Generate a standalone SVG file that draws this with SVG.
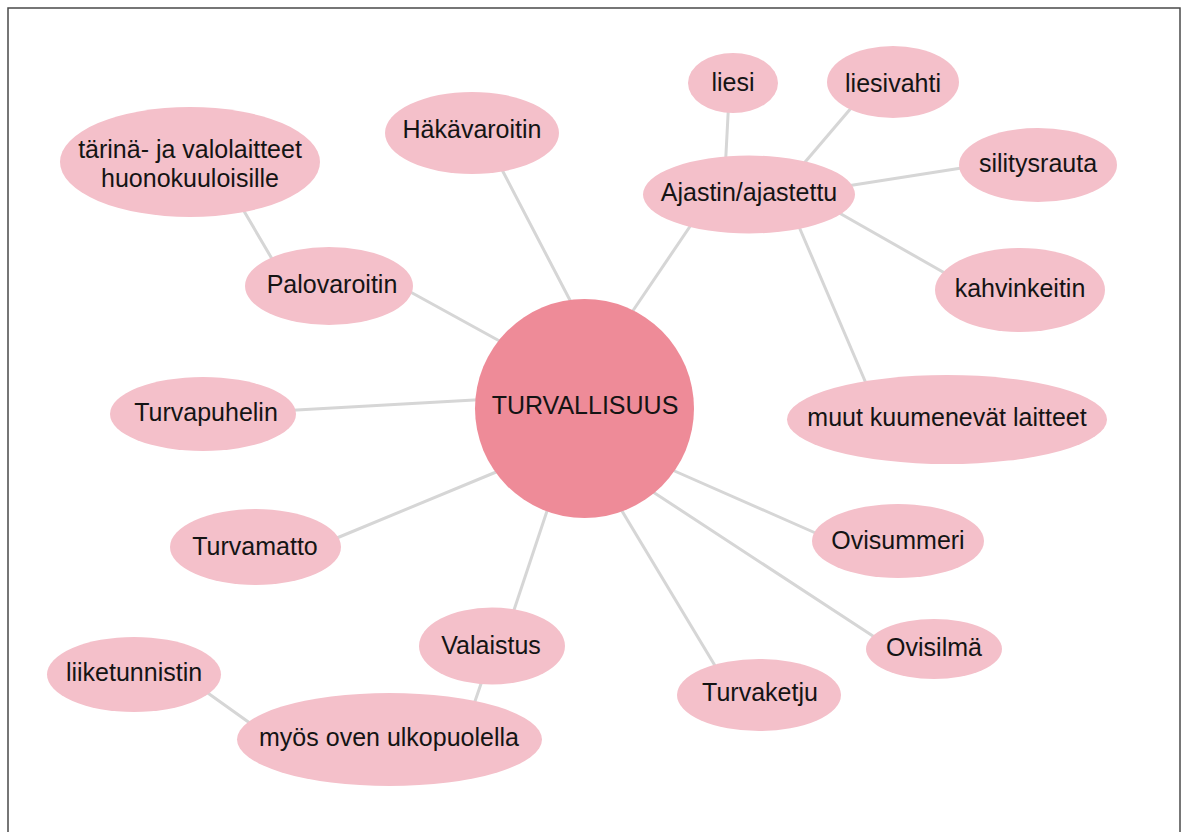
<svg xmlns="http://www.w3.org/2000/svg" width="1186" height="832" viewBox="0 0 1186 832">
  <style>
    .frame { fill: #ffffff; stroke: #4a4a4a; stroke-width: 1.5; }
    .link { stroke: #d6d6d6; stroke-width: 3; stroke-linecap: round; fill: none; }
    .leaf { fill: #f4c0ca; }
    .hub { fill: #ee8b98; }
    .label { font-family: "Liberation Sans", Arial, sans-serif; font-size: 25px; fill: #141414; text-anchor: middle; }
  </style>

  <!-- page frame -->
  <rect class="frame" x="8" y="8" width="1172" height="840"/>

  <!-- connectors -->
  <g id="connectors">
    <line class="link" x1="241" y1="206" x2="275" y2="264"/>
    <line class="link" x1="405" y1="289" x2="505" y2="344"/>
    <line class="link" x1="499" y1="164" x2="573" y2="306"/>
    <line class="link" x1="693" y1="222" x2="628" y2="318"/>
    <line class="link" x1="728.5" y1="106" x2="725.5" y2="163"/>
    <line class="link" x1="852" y1="107" x2="800" y2="168"/>
    <line class="link" x1="968" y1="167" x2="847" y2="186"/>
    <line class="link" x1="834" y1="210" x2="950" y2="276"/>
    <line class="link" x1="797" y1="222" x2="868" y2="388"/>
    <line class="link" x1="288" y1="410.5" x2="483" y2="399.5"/>
    <line class="link" x1="332" y1="540" x2="501" y2="470"/>
    <line class="link" x1="549" y1="505" x2="512" y2="616"/>
    <line class="link" x1="483" y1="678" x2="473" y2="707"/>
    <line class="link" x1="205" y1="691" x2="254" y2="726"/>
    <line class="link" x1="619" y1="506" x2="717" y2="669"/>
    <line class="link" x1="650" y1="490" x2="879" y2="640"/>
    <line class="link" x1="670" y1="469" x2="820" y2="535"/>
  </g>

  <!-- central topic -->
  <g id="turvallisuus">
    <circle class="hub" cx="584.5" cy="408.5" r="109.5"/>
    <text class="label" x="585" y="414">TURVALLISUUS</text>
  </g>

  <g id="tarina">
    <ellipse class="leaf" cx="190" cy="162" rx="130" ry="55"/>
    <text class="label" x="190" y="158">tärinä- ja valolaitteet</text>
    <text class="label" x="190" y="187">huonokuuloisille</text>
  </g>

  <g id="palovaroitin">
    <ellipse class="leaf" cx="329" cy="286" rx="84" ry="39"/>
    <text class="label" x="332" y="293">Palovaroitin</text>
  </g>

  <g id="hakavaroitin">
    <ellipse class="leaf" cx="472" cy="133" rx="87" ry="41"/>
    <text class="label" x="472" y="138">Häkävaroitin</text>
  </g>

  <g id="liesi">
    <ellipse class="leaf" cx="733" cy="83" rx="45" ry="30"/>
    <text class="label" x="733" y="91">liesi</text>
  </g>

  <g id="liesivahti">
    <ellipse class="leaf" cx="893" cy="82" rx="66" ry="36"/>
    <text class="label" x="893" y="92">liesivahti</text>
  </g>

  <g id="ajastin">
    <ellipse class="leaf" cx="749" cy="194.5" rx="106" ry="39"/>
    <text class="label" x="749" y="201">Ajastin/ajastettu</text>
  </g>

  <g id="silitysrauta">
    <ellipse class="leaf" cx="1038" cy="165" rx="79" ry="37"/>
    <text class="label" x="1038" y="172">silitysrauta</text>
  </g>

  <g id="kahvinkeitin">
    <ellipse class="leaf" cx="1020" cy="290" rx="85" ry="42"/>
    <text class="label" x="1020" y="297">kahvinkeitin</text>
  </g>

  <g id="muut">
    <ellipse class="leaf" cx="947" cy="419.5" rx="160" ry="44.5"/>
    <text class="label" x="947" y="426">muut kuumenevät laitteet</text>
  </g>

  <g id="turvapuhelin">
    <ellipse class="leaf" cx="203" cy="414" rx="93" ry="37"/>
    <text class="label" x="206" y="421">Turvapuhelin</text>
  </g>

  <g id="turvamatto">
    <ellipse class="leaf" cx="255.5" cy="547" rx="85.5" ry="38"/>
    <text class="label" x="255" y="555">Turvamatto</text>
  </g>

  <g id="ovisummeri">
    <ellipse class="leaf" cx="898" cy="541" rx="86" ry="37"/>
    <text class="label" x="898" y="549">Ovisummeri</text>
  </g>

  <g id="ovisilma">
    <ellipse class="leaf" cx="934" cy="649" rx="68" ry="30"/>
    <text class="label" x="934" y="656">Ovisilmä</text>
  </g>

  <g id="turvaketju">
    <ellipse class="leaf" cx="759" cy="695" rx="82" ry="36"/>
    <text class="label" x="760" y="701">Turvaketju</text>
  </g>

  <g id="valaistus">
    <ellipse class="leaf" cx="492" cy="646" rx="73" ry="38.5"/>
    <text class="label" x="491" y="654">Valaistus</text>
  </g>

  <g id="myos">
    <ellipse class="leaf" cx="389.5" cy="739.5" rx="152.5" ry="46.5"/>
    <text class="label" x="389" y="746">myös oven ulkopuolella</text>
  </g>

  <g id="liiketunnistin">
    <ellipse class="leaf" cx="134" cy="674.5" rx="87" ry="37.5"/>
    <text class="label" x="134" y="681">liiketunnistin</text>
  </g>
</svg>
